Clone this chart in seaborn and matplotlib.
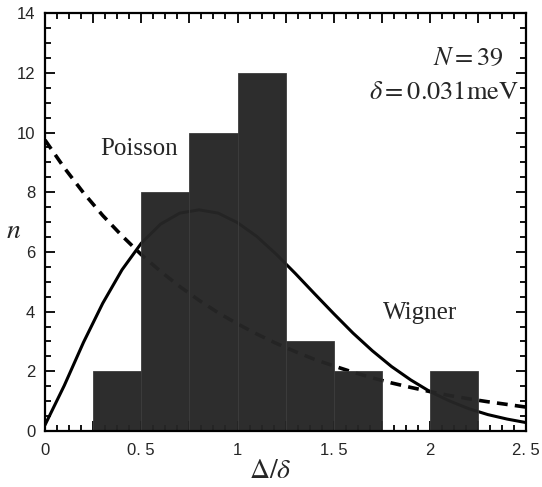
import matplotlib
matplotlib.use("Agg")
import matplotlib.pyplot as plt
import matplotlib.ticker as mticker
import seaborn as sns
import pandas as pd

# ---- data ----
bin_edges = [0.25, 0.5, 0.75, 1.0, 1.25, 1.5, 1.75, 2.0, 2.25]
bin_counts = [2, 8, 10, 12, 3, 2, 0, 2]

curve_x = [0.0, 0.1, 0.2, 0.3, 0.4, 0.5, 0.6, 0.7, 0.8, 0.9, 1.0, 1.1, 1.2,
           1.3, 1.4, 1.5, 1.6, 1.7, 1.8, 1.9, 2.0, 2.1, 2.2, 2.3, 2.4, 2.5]
poisson_y = [9.75, 8.82, 7.98, 7.22, 6.54, 5.91, 5.35, 4.84, 4.38, 3.96, 3.59,
             3.25, 2.94, 2.66, 2.40, 2.18, 1.97, 1.78, 1.61, 1.46, 1.32, 1.19,
             1.08, 0.98, 0.89, 0.80]
wigner_y = [0.2, 1.52, 2.97, 4.28, 5.40, 6.29, 6.93, 7.30, 7.41, 7.30, 6.98,
            6.52, 5.93, 5.28, 4.60, 3.93, 3.28, 2.69, 2.16, 1.71, 1.32, 1.01,
            0.75, 0.55, 0.40, 0.28]

x_ticks = [0, 0.5, 1.0, 1.5, 2.0, 2.5]
x_tick_labels = ["0", "0. 5", "1", "1. 5", "2", "2. 5"]
y_ticks = [0, 2, 4, 6, 8, 10, 12, 14]

sns.set_style("white")
plt.rcParams["font.family"] = ["Liberation Sans", "DejaVu Sans"]
plt.rcParams["mathtext.fontset"] = "stix"

fig = plt.figure(figsize=(5.42, 4.87), dpi=100)
ax = fig.add_axes([0.083, 0.115, 0.888, 0.858])

centers = [(bin_edges[i] + bin_edges[i + 1]) / 2 for i in range(len(bin_counts))]
df_bars = pd.DataFrame({"x": centers, "w": bin_counts})
df_curve = pd.DataFrame({"x": curve_x, "poisson": poisson_y, "wigner": wigner_y})

sns.lineplot(data=df_curve, x="x", y="poisson", ax=ax, color="black",
             linewidth=2.6, linestyle=(0, (3.0, 2.0)), zorder=1)
sns.lineplot(data=df_curve, x="x", y="wigner", ax=ax, color="black",
             linewidth=2.2, zorder=1)
sns.histplot(data=df_bars, x="x", weights="w", bins=bin_edges, ax=ax,
             color="#262626", alpha=0.97, edgecolor="#3c3c3c", linewidth=0.6,
             zorder=2)

ax.set_xlim(0, 2.5)
ax.set_ylim(0, 14)
ax.set_xlabel("")
ax.set_ylabel("")

ax.xaxis.set_major_locator(mticker.MultipleLocator(0.25))
ax.xaxis.set_minor_locator(mticker.MultipleLocator(0.0625))
lab_map = dict(zip(x_ticks, x_tick_labels))
ax.xaxis.set_major_formatter(mticker.FuncFormatter(
    lambda v, p: lab_map.get(round(v, 3), "") if abs(v * 2 - round(v * 2)) < 1e-6 else ""))
ax.set_yticks(y_ticks)
ax.yaxis.set_minor_locator(mticker.MultipleLocator(0.5))

ax.tick_params(which="both", direction="in", top=True, right=True,
               bottom=True, left=True, color="black", width=1.3)
ax.tick_params(which="major", length=7)
ax.tick_params(which="minor", length=4)
ax.tick_params(axis="x", which="major", labelsize=12, pad=9)
ax.tick_params(axis="y", which="major", labelsize=12, pad=7)

for s in ax.spines.values():
    s.set_visible(True)
    s.set_color("black")
    s.set_linewidth(1.6)
    s.set_zorder(5)

serif = ["Liberation Serif", "DejaVu Serif"]
ax.text(0.49, 9.45, "Poisson", fontsize=18, family=serif, ha="center", va="center")
ax.text(1.95, 3.95, "Wigner", fontsize=18, family=serif, ha="center", va="center")
ax.text(2.2, 12.5, r"$N=39$", fontsize=19, ha="center", va="center")
ax.text(2.07, 11.35, r"$\delta=0.031\mathrm{meV}$", fontsize=19, ha="center", va="center")

ax.text(-0.165, 6.7, r"$n$", fontsize=20, ha="center", va="center")
ax.text(1.17, -1.35, r"$\Delta/\delta$", fontsize=20, ha="center", va="center")

fig.savefig("out.png", dpi=100)
